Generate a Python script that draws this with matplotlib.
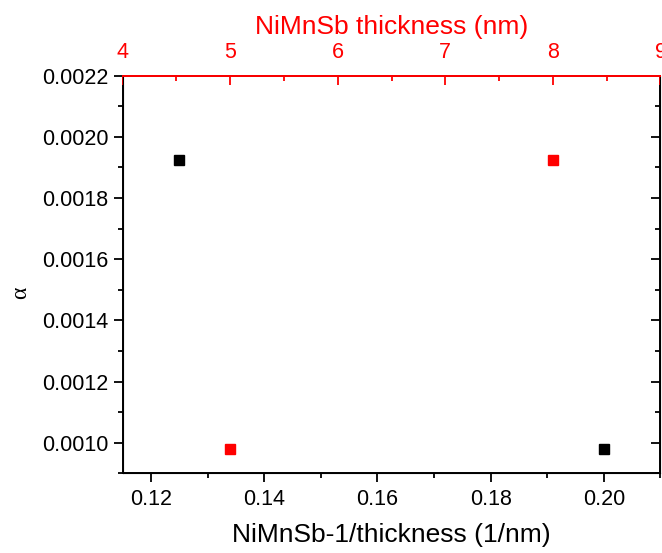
import matplotlib
matplotlib.use("Agg")
import matplotlib.pyplot as plt
from matplotlib.lines import TICKLEFT
from matplotlib.ticker import MultipleLocator, FormatStrFormatter

plt.rcParams['font.family'] = ['Liberation Sans', 'DejaVu Sans']

# data: inverse thickness (black, bottom axis) and thickness (red, top axis)
inv_thickness = [0.125, 0.200]
alpha_inv = [0.001925, 0.00098]
thickness = [5.0, 8.0]
alpha_thk = [0.00098, 0.001925]

fig = plt.figure(figsize=(6.62, 5.53), dpi=100)
ax = fig.add_axes([0.1852, 0.1441, 0.8125, 0.7190])

ax.plot(inv_thickness, alpha_inv, 's', color='black', markersize=7, linestyle='none')
ax.set_xlim(0.115, 0.21)
ax.set_ylim(0.0009, 0.0022)
ax.xaxis.set_major_locator(MultipleLocator(0.02))
ax.xaxis.set_minor_locator(MultipleLocator(0.01))
ax.xaxis.set_major_formatter(FormatStrFormatter('%.2f'))
ax.yaxis.set_major_locator(MultipleLocator(0.0002))
ax.yaxis.set_minor_locator(MultipleLocator(0.0001))
ax.yaxis.set_major_formatter(FormatStrFormatter('%.4f'))
ax.tick_params(axis='both', which='major', direction='out', length=6.5, width=1.3, labelsize=15.5)
ax.tick_params(axis='both', which='minor', direction='out', length=3.5, width=1.3)
ax.tick_params(axis='x', which='major', pad=5)
ax.tick_params(axis='y', which='major', pad=3.5)
ax.tick_params(axis='y', which='both', right=True, labelright=False)
ax.set_xlabel('NiMnSb-1/thickness (1/nm)', fontsize=19, labelpad=9)
ax.set_ylabel('α', fontsize=17, family=['Liberation Serif', 'DejaVu Serif'])
ax.yaxis.set_label_coords(-0.17, 0.455)
for s in ax.spines.values():
    s.set_linewidth(1.4)

# right side ticks point inward
for t in ax.yaxis.get_major_ticks() + ax.yaxis.get_minor_ticks():
    t.tick2line.set_marker(TICKLEFT)

ax2 = ax.twiny()
ax2.plot(thickness, alpha_thk, 's', color='red', markersize=7, linestyle='none')
ax2.set_xlim(4, 9)
ax2.xaxis.set_major_locator(MultipleLocator(1))
ax2.xaxis.set_minor_locator(MultipleLocator(0.5))
ax2.tick_params(axis='x', which='major', direction='in', length=6.5, width=1.3,
                labelsize=15.5, colors='red', pad=9)
ax2.tick_params(axis='x', which='minor', direction='in', length=3.5, width=1.3, colors='red')
ax2.spines['top'].set_color('red')
ax2.spines['top'].set_linewidth(1.4)
ax2.set_xlabel('NiMnSb thickness (nm)', fontsize=19, color='red', labelpad=6)

fig.savefig('out.png', dpi=100)
